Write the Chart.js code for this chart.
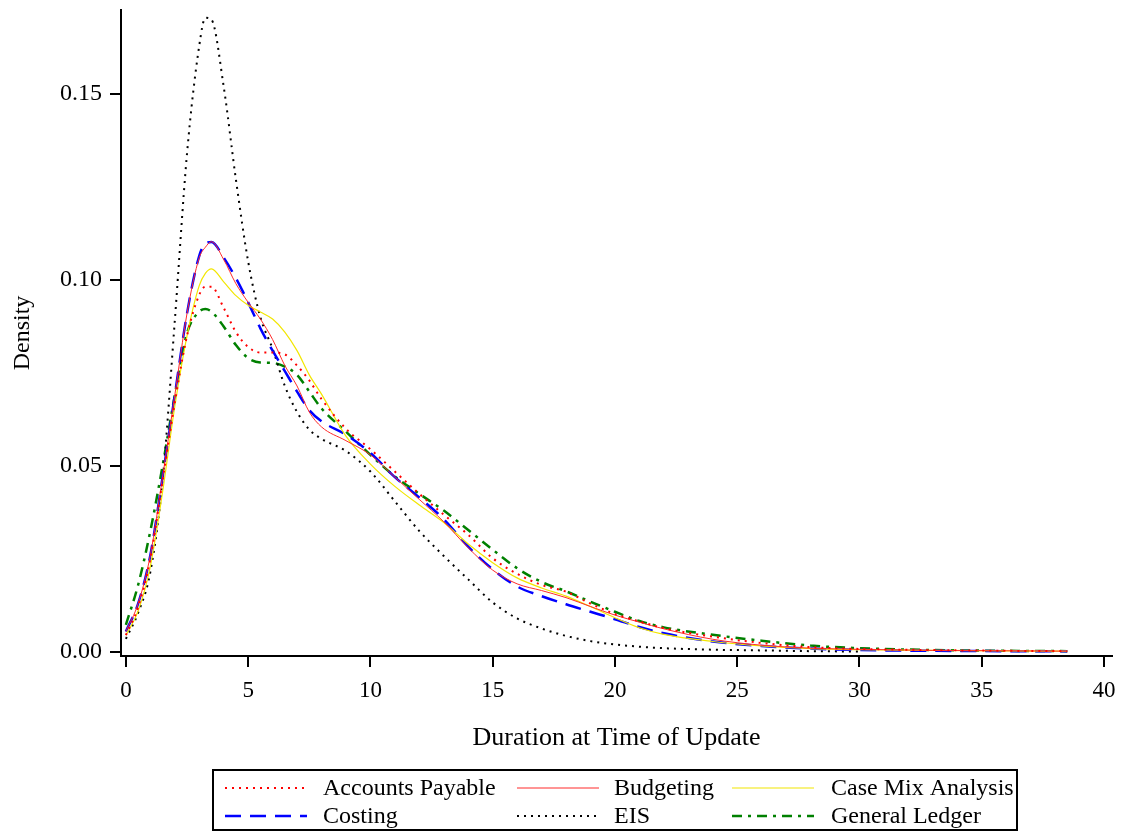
<!DOCTYPE html>
<html>
<head>
<meta charset="utf-8">
<script src="https://cdn.jsdelivr.net/npm/chart.js@4.4.1/dist/chart.umd.min.js"></script>
<style>
  html, body { margin: 0; padding: 0; background: #fff; }
  #densityChart { display: block; }
</style>
</head>
<body>
<canvas id="densityChart" width="1122" height="834"></canvas>
<script>
// Data
const durations = [0, 0.5, 1, 1.5, 2, 2.5, 3, 3.25, 3.5, 4, 4.5, 5, 5.5, 6, 6.5, 7, 7.5, 8,
    9, 10, 11, 12, 13, 14, 15, 16, 17, 18, 19, 20, 21, 22, 24, 26, 28, 30, 33, 36, 38.5];

const accountsPayable = [0.0045, 0.012, 0.025, 0.046, 0.067, 0.085, 0.096, 0.0982, 0.0982, 0.0925, 0.086, 0.082, 0.0805, 0.0805, 0.080, 0.077, 0.073, 0.068,
    0.060, 0.0545, 0.0485, 0.0425, 0.0369, 0.0315, 0.0252, 0.0210, 0.0180, 0.0162, 0.0130, 0.0102, 0.0082, 0.0064, 0.0041, 0.0024, 0.0013, 0.0008, 0.0005, 0.0003, 0.0002];
const budgeting = [0.0055, 0.013, 0.026, 0.047, 0.069, 0.091, 0.106, 0.1088, 0.1103, 0.1055, 0.099, 0.094, 0.0895, 0.084, 0.077, 0.0715, 0.0645, 0.0605,
    0.0568, 0.053, 0.047, 0.041, 0.035, 0.028, 0.022, 0.0183, 0.0165, 0.0146, 0.0122, 0.0099, 0.0080, 0.0062, 0.0034, 0.0018, 0.0010, 0.0007, 0.0004, 0.0003, 0.0002];
const caseMix = [0.0045, 0.011, 0.023, 0.043, 0.066, 0.085, 0.0985, 0.1018, 0.1030, 0.0995, 0.0958, 0.0932, 0.0914, 0.0895, 0.086, 0.081, 0.0745, 0.0693,
    0.058, 0.0505, 0.0445, 0.0395, 0.0348, 0.029, 0.024, 0.0199, 0.0172, 0.0150, 0.0122, 0.0092, 0.0065, 0.0047, 0.0028, 0.0016, 0.0009, 0.0006, 0.0004, 0.0003, 0.0002];
const costing = [0.0055, 0.013, 0.026, 0.047, 0.069, 0.091, 0.1065, 0.1098, 0.1102, 0.106, 0.1005, 0.094, 0.087, 0.081, 0.0755, 0.070, 0.065, 0.062,
    0.0584, 0.0535, 0.047, 0.0415, 0.0357, 0.0283, 0.0222, 0.0176, 0.0150, 0.0128, 0.0108, 0.0088, 0.0067, 0.0050, 0.0028, 0.0016, 0.0009, 0.0005, 0.0003, 0.0002, 0.0002];
const eis = [0.0035, 0.0105, 0.0215, 0.046, 0.089, 0.134, 0.163, 0.1705, 0.170, 0.152, 0.127, 0.105, 0.090, 0.0815, 0.0715, 0.0645, 0.0598, 0.0573,
    0.0540, 0.0485, 0.0405, 0.0325, 0.0258, 0.0195, 0.0133, 0.0090, 0.0063, 0.0043, 0.0029, 0.0020, 0.0014, 0.0010, 0.0006, 0.0004, 0.0002, 0.0001, null, null, null];
const generalLedger = [0.0073, 0.018, 0.0325, 0.050, 0.069, 0.0857, 0.0915, 0.0922, 0.0915, 0.0875, 0.0825, 0.079, 0.0778, 0.0777, 0.0767, 0.0745, 0.070, 0.0655,
    0.0592, 0.0530, 0.0472, 0.0425, 0.0380, 0.0328, 0.0275, 0.0225, 0.0188, 0.0163, 0.0135, 0.0108, 0.0083, 0.0066, 0.0046, 0.0030, 0.0017, 0.0010, 0.0005, 0.0003, 0.0002];

const xTicks = [0, 5, 10, 15, 20, 25, 30, 35, 40];
const yTicks = [0, 0.05, 0.10, 0.15];

const FONT = '"Liberation Serif", "Times New Roman", serif';

function toPoints(values) {
    return durations.map((d, i) => ({ x: d, y: values[i] }));
}

// Boxed legend in three columns under the axis title
const boxLegend = {
    id: 'boxLegend',
    afterDraw(chart) {
        const ctx = chart.ctx;
        const box = { x: 213, y: 770, w: 804, h: 60 };
        const lineX = [225, 517, 732];
        const textX = [323, 614, 831];
        const rowY = [788, 816];
        ctx.save();
        ctx.strokeStyle = '#000';
        ctx.lineWidth = 2;
        ctx.strokeRect(box.x, box.y, box.w, box.h);
        ctx.font = '24px ' + FONT;
        ctx.textBaseline = 'middle';
        ctx.fillStyle = '#000';
        chart.data.datasets.forEach((ds, i) => {
            const col = i % 3;
            const y = rowY[Math.floor(i / 3)];
            ctx.save();
            ctx.strokeStyle = ds.borderColor;
            ctx.lineWidth = ds.borderWidth;
            ctx.setLineDash(ds.borderDash || []);
            ctx.beginPath();
            ctx.moveTo(lineX[col], y);
            ctx.lineTo(lineX[col] + 82, y);
            ctx.stroke();
            ctx.restore();
            ctx.fillText(ds.label, textX[col], y + 1);
        });
        ctx.restore();
    }
};

let densityChart;

function drawChart() {
    const ctx = document.getElementById('densityChart').getContext('2d');
    if (densityChart) {
        densityChart.destroy();
    }
    densityChart = new Chart(ctx, {
        type: 'line',
        data: {
            datasets: [
                { label: 'Accounts Payable', data: toPoints(accountsPayable), borderColor: '#ff0000', borderWidth: 2, borderDash: [2, 5] },
                { label: 'Budgeting', data: toPoints(budgeting), borderColor: '#ff2a2a', borderWidth: 1 },
                { label: 'Case Mix Analysis', data: toPoints(caseMix), borderColor: '#f2e600', borderWidth: 1.2 },
                { label: 'Costing', data: toPoints(costing), borderColor: '#0000ff', borderWidth: 2.5, borderDash: [16, 9] },
                { label: 'EIS', data: toPoints(eis), borderColor: '#000000', borderWidth: 2, borderDash: [2, 5] },
                { label: 'General Ledger', data: toPoints(generalLedger), borderColor: '#008000', borderWidth: 2.5, borderDash: [10, 6, 3, 6] }
            ]
        },
        options: {
            responsive: false,
            animation: false,
            layout: { padding: { top: 10, right: 10, left: 0, bottom: 0 } },
            elements: {
                point: { radius: 0 },
                line: { cubicInterpolationMode: 'monotone', fill: false }
            },
            plugins: {
                legend: { display: false },
                tooltip: { enabled: false }
            },
            scales: {
                x: {
                    type: 'linear',
                    min: -0.2,
                    max: 40.33,
                    afterBuildTicks: scale => { scale.ticks = xTicks.map(v => ({ value: v })); },
                    afterFit: scale => {
                        scale.height = 178;
                        scale.paddingLeft = 0;
                        scale.paddingRight = 0;
                    },
                    border: { display: true, color: '#000', width: 2 },
                    grid: { drawOnChartArea: false, drawTicks: true, tickLength: 11, color: '#000', lineWidth: 2 },
                    ticks: {
                        color: '#000',
                        font: { family: FONT, size: 23 },
                        padding: 10,
                        maxRotation: 0,
                        callback: v => String(v)
                    },
                    title: {
                        display: true,
                        text: 'Duration at Time of Update',
                        color: '#000',
                        font: { family: FONT, size: 26 },
                        padding: { top: 0, bottom: 80 }
                    }
                },
                y: {
                    type: 'linear',
                    min: -0.0011,
                    max: 0.1726,
                    afterBuildTicks: scale => { scale.ticks = yTicks.map(v => ({ value: v })); },
                    afterFit: scale => {
                        scale.width = 121;
                        scale.paddingTop = 0;
                        scale.paddingBottom = 0;
                    },
                    border: { display: true, color: '#000', width: 2 },
                    grid: { drawOnChartArea: false, drawTicks: true, tickLength: 11, color: '#000', lineWidth: 2 },
                    ticks: {
                        color: '#000',
                        font: { family: FONT, size: 24 },
                        padding: 8,
                        callback: v => Number(v).toFixed(2)
                    },
                    title: {
                        display: true,
                        text: 'Density',
                        color: '#000',
                        font: { family: FONT, size: 24 },
                        padding: { top: 8, bottom: 0 }
                    }
                }
            }
        },
        plugins: [boxLegend]
    });
}

document.addEventListener('DOMContentLoaded', () => {
    drawChart();
});
</script>
</body>
</html>
